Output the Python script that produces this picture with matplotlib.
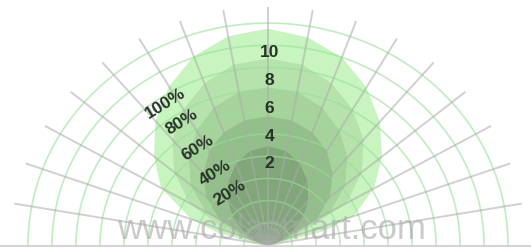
import numpy as np
import matplotlib
matplotlib.use("Agg")
import matplotlib.pyplot as plt

# beam pattern, radius per angle (deg), one lobe per intensity level
angles = [0, 10, 15, 20, 30, 40, 50, 60, 70, 80, 90,
          100, 110, 120, 130, 140, 150, 160, 165, 170, 180]
lobe_100 = [0, 0.45, 2.4, 3.8, 5.1, 6.2, 7.25, 8.2, 9.0, 9.5, 9.75,
            9.55, 9.05, 8.25, 7.3, 6.2, 5.15, 3.4, 2.2, 0.7, 0]
lobe_80 = [0, 0, 0.3, 1.3, 3.8, 5.1, 6.2, 7.05, 7.75, 8.25, 8.4,
           8.25, 7.75, 7.05, 6.2, 5.1, 3.8, 1.8, 0.6, 0, 0]
lobe_60 = [0, 0, 0.2, 0.9, 3.0, 4.2, 5.15, 5.95, 6.6, 7.0, 7.1,
           7.0, 6.6, 5.95, 5.15, 4.2, 3.0, 1.1, 0.4, 0, 0]
lobe_40 = [0, 0, 0.15, 0.7, 2.35, 3.35, 4.2, 4.9, 5.4, 5.7, 5.8,
           5.7, 5.4, 4.9, 4.2, 3.35, 2.35, 0.8, 0.3, 0, 0]
lobe_20 = [0, 0.15, 0.3, 0.55, 1.15, 1.9, 2.6, 3.3, 3.9, 4.3, 4.45,
           4.3, 3.9, 3.3, 2.6, 1.9, 1.15, 0.6, 0.35, 0.15, 0]
lobe_colors = ['#c8f4bf', '#b6e3ac', '#a6d29c', '#93bf8a', '#80a67a']

pct_labels = ['100%', '80%', '60%', '40%', '20%']
level_labels = ['10', '8', '6', '4', '2']

rings = [1, 2, 3, 4, 5, 6, 7, 8, 9, 10]
spokes = [10, 20, 30, 40, 50, 60, 70, 80, 90, 100, 110, 120, 130, 140, 150, 160, 170]

fig = plt.figure(figsize=(5.31, 2.48), dpi=100)
ax = fig.add_axes([0, 0, 1, 1])
ax.set_xlim(-11.17, 10.96)
ax.set_ylim(-0.135, 11.04)
ax.axis('off')

th = np.radians(angles)
for lobe, c in zip([lobe_100, lobe_80, lobe_60, lobe_40, lobe_20], lobe_colors):
    r = np.array(lobe)
    ax.fill(r * np.cos(th), r * np.sin(th), color=c, lw=0, zorder=1)

t = np.linspace(0, np.pi, 200)
for rr in rings:
    ax.plot(rr * np.cos(t), rr * np.sin(t), color='#96e296', lw=1.2, alpha=0.6, zorder=2)
for a in spokes:
    ar = np.radians(a)
    ax.plot([0, 10.7 * np.cos(ar)], [0, 10.7 * np.sin(ar)], color='#ababab', lw=1.4,
            alpha=0.55, zorder=2)
ax.axhline(-0.06, color='#cccccc', lw=1.2, zorder=2)

pct_x = [-4.29, -3.58, -2.92, -2.21, -1.58]
pct_y = [6.40, 5.54, 4.37, 3.24, 2.34]
for s, x, y in zip(pct_labels, pct_x, pct_y):
    ax.text(x, y, s, rotation=32, ha='center', va='center', fontsize=12.5,
            family='Liberation Sans', weight='bold', color='#253325', zorder=3)

level_y = [8.69, 7.43, 6.17, 4.91, 3.69]
for s, y in zip(level_labels, level_y):
    ax.text(0.05, y, s, ha='center', va='center', fontsize=12.5,
            family='Liberation Sans', weight='bold', color='#253325', zorder=3)

ax.text(0.15, 0.25, 'www.colasmart.com', ha='center', va='baseline', fontsize=25,
        family='Liberation Sans', color='#a8a8a8', alpha=0.6, zorder=4)

fig.savefig('out.png', dpi=100)
